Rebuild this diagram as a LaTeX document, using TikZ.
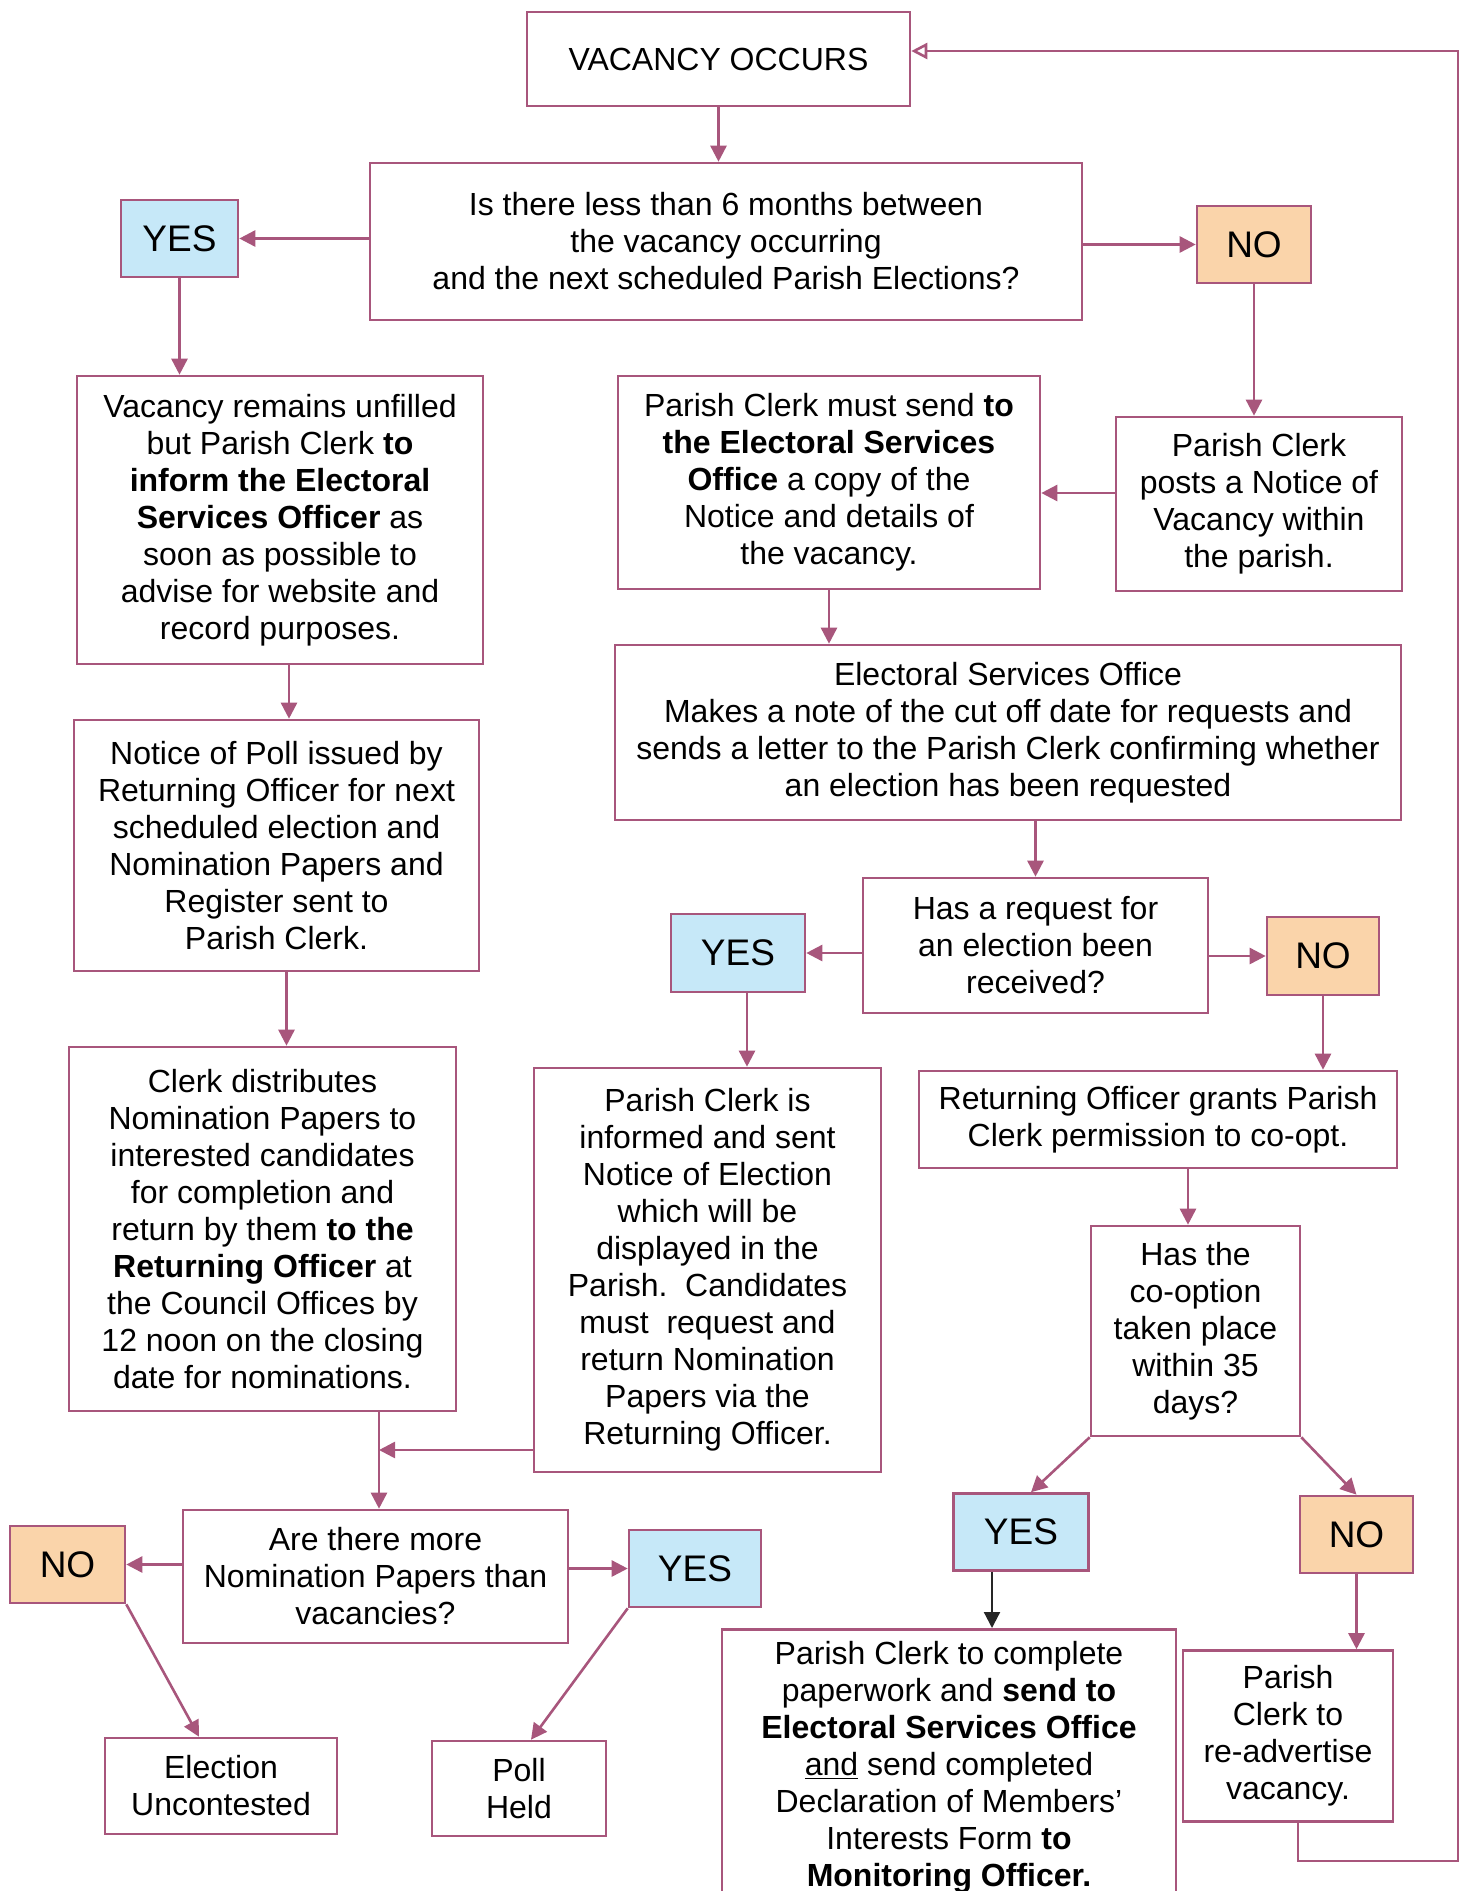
\documentclass[tikz,border=0pt]{standalone}
\usepackage{fontspec}
\setmainfont{Liberation Sans}
\usetikzlibrary{arrows.meta, calc}
\definecolor{flowline}{RGB}{168,86,124}
\definecolor{yesfill}{RGB}{198,232,248}
\definecolor{nofill}{RGB}{250,212,170}
\tikzset{
  box/.style={draw=flowline, line width=1.3pt, fill=white, align=center, inner sep=3pt,
    font=\fontsize{16}{18.5}\selectfont},
  yesbox/.style={box, fill=yesfill, font=\fontsize{18.5}{22}\selectfont},
  nobox/.style={box, fill=nofill, font=\fontsize{18.5}{22}\selectfont},
  link/.style={draw=flowline, line width=1.3pt, -{Triangle[length=8pt,width=8pt]}},
}
\begin{document}
\begin{tikzpicture}[x=0.5pt, y=-0.5pt, >=latex]
\useasboundingbox (0,0) rectangle (1473,1891);
\clip (0,0) rectangle (1473,1891);

% top part
\node[box, minimum width=191.5pt, minimum height=47pt] (vac) at (718.5,59) {VACANCY OCCURS};
\node[box, minimum width=356pt, minimum height=78.5pt] (q1) at (726,241.5)
  {Is there less than 6 months between\\ the vacancy occurring\\ and the next scheduled Parish Elections?};
\node[yesbox, minimum width=58.5pt, minimum height=38.5pt] (yes1) at (179.5,238.5) {YES};
\node[nobox, minimum width=57pt, minimum height=38.5pt] (no1) at (1254,244.5) {NO};

\node[box, minimum width=203pt, minimum height=144pt] (unfilled) at (280,520)
  {Vacancy remains unfilled\\ but Parish Clerk \textbf{to}\\ \textbf{inform the Electoral}\\
   \textbf{Services Officer} as\\ soon as possible to\\ advise for website and\\ record purposes.};
\node[box, minimum width=211pt, minimum height=106.5pt] (mustsend) at (829,482.5)
  {Parish Clerk must send \textbf{to}\\ \textbf{the Electoral Services}\\ \textbf{Office} a copy of the\\
   Notice and details of\\ the vacancy.};
\node[box, minimum width=143pt, minimum height=87pt] (posts) at (1259,504)
  {Parish Clerk\\ posts a Notice of\\ Vacancy within\\ the parish.};
\node[box, minimum width=393pt, minimum height=87.5pt] (eso) at (1008,732.5)
  {Electoral Services Office\\ Makes a note of the cut off date for requests and\\
   sends a letter to the Parish Clerk confirming whether\\ an election has been requested};

% middle part
\node[box, minimum width=202.5pt, minimum height=125.5pt] (notice) at (276.5,845.5)
  {Notice of Poll issued by\\ Returning Officer for next\\ scheduled election and\\
   Nomination Papers and\\ Register sent to\\ Parish Clerk.};
\node[box, minimum width=172.5pt, minimum height=67.5pt] (request) at (1035.5,945.5)
  {Has a request for\\ an election been\\ received?};
\node[yesbox, minimum width=67pt, minimum height=39pt] (yes2) at (738,953) {YES};
\node[nobox, minimum width=56pt, minimum height=39pt] (no2) at (1323,956) {NO};
\node[box, minimum width=193.5pt, minimum height=182pt] (distrib) at (262.5,1229)
  {Clerk distributes\\ Nomination Papers to\\ interested candidates\\ for completion and\\
   return by them \textbf{to the}\\ \textbf{Returning Officer} at\\ the Council Offices by\\
   12 noon on the closing\\ date for nominations.};
\node[box, minimum width=173.5pt, minimum height=202pt] (informed) at (707.5,1270)
  {Parish Clerk is\\ informed and sent\\ Notice of Election\\ which will be\\ displayed in the\\
   Parish.\ \ Candidates\\ must\ \ request and\\ return Nomination\\ Papers via the\\ Returning Officer.};
\node[box, minimum width=239pt, minimum height=48.5pt] (grants) at (1158,1119.5)
  {Returning Officer grants Parish\\ Clerk permission to co-opt.};
\node[box, minimum width=104.5pt, minimum height=105pt] (coopt) at (1195.5,1331)
  {Has the\\ co-option\\ taken place\\ within 35\\ days?};

% bottom part
\node[box, minimum width=192.5pt, minimum height=66.5pt] (more) at (375.5,1576.5)
  {Are there more\\ Nomination Papers than\\ vacancies?};
\node[nobox, minimum width=57.5pt, minimum height=38.5pt] (no3) at (67.5,1564.5) {NO};
\node[yesbox, minimum width=66pt, minimum height=38.5pt] (yes3) at (695,1568.5) {YES};
\node[yesbox, minimum width=67.5pt, minimum height=38.5pt] (yes4) at (1021,1532) {YES};
\node[nobox, minimum width=56.5pt, minimum height=38.5pt] (no4) at (1356.5,1534.5) {NO};
\node[box, minimum width=116pt, minimum height=48pt] (uncont) at (221,1786) {Election\\ Uncontested};
\node[box, minimum width=87pt, minimum height=47.5pt] (held) at (519,1788.5) {Poll\\ Held};
\node[box, anchor=north, minimum width=227pt, inner sep=6pt] (complete) at (949,1628)
  {Parish Clerk to complete\\ paperwork and \textbf{send to}\\ \textbf{Electoral Services Office}\\
   \underline{and} send completed\\ Declaration of Members'\\ Interests Form \textbf{to}\\
   \textbf{Monitoring Officer.}};
\node[box, minimum width=105pt, minimum height=85.5pt] (readv) at (1288,1736)
  {Parish\\ Clerk to\\ re-advertise\\ vacancy.};

% connectors
\draw[link] (vac.south) -- (vac.south |- q1.north);
\draw[link] (q1.west |- yes1.east) -- (yes1.east);
\draw[link] (q1.east |- no1.west) -- (no1.west);
\draw[link] (yes1.south) -- (yes1.south |- unfilled.north);
\draw[link] (no1.south) -- (no1.south |- posts.north);
\coordinate (p1) at ($(posts.west)+(0,-11)$);
\draw[link] (p1) -- (p1 -| mustsend.east);
\draw[link] (mustsend.south) -- (mustsend.south |- eso.north);
\draw[link] (eso.south -| request.north) -- (request.north);
\draw[link] (request.west |- yes2.east) -- (yes2.east);
\draw[link] (request.east |- no2.west) -- (no2.west);
\coordinate (c1) at ($(unfilled.south)+(9,0)$);
\draw[link] (c1) -- (c1 |- notice.north);
\coordinate (c2) at ($(notice.south)+(10,0)$);
\draw[link] (c2) -- (c2 |- distrib.north);
\coordinate (c3) at ($(yes2.south)+(9,0)$);
\draw[link] (c3) -- (c3 |- informed.north);
\draw[link] (no2.south) -- (no2.south |- grants.north);
\coordinate (c4) at ($(grants.south)+(30,0)$);
\draw[link] (c4) -- (c4 |- coopt.north);
\draw[link] (coopt.south west) -- ($(yes4.north)+(10,0)$);
\draw[link] (coopt.south east) -- (no4.north);
\coordinate (join) at (379,1450);
\draw[link] (informed.west |- join) -- (join);
\draw[link] (join |- distrib.south) -- (join |- more.north);
\draw[link] (more.west |- no3.east) -- (no3.east);
\draw[link] (more.east |- yes3.west) -- (yes3.west);
\draw[link] (no3.south east) -- ($(uncont.north)+(-22,0)$);
\draw[link] (yes3.south west) -- ($(held.north)+(12,0)$);
\coordinate (c5) at ($(yes4.south)+(-29,0)$);
\draw[link, draw=black!85, line width=1.1pt] (c5) -- (c5 |- complete.north);
\draw[link] (no4.south) -- (no4.south |- readv.north);
\coordinate (loop) at (1458,51);
\draw[link, -{Triangle[open, length=8pt, width=8pt]}] ($(readv.south)+(10,0)$) -- ++(0,38) -| (loop) -- (loop -| vac.east);
\end{tikzpicture}
\end{document}
